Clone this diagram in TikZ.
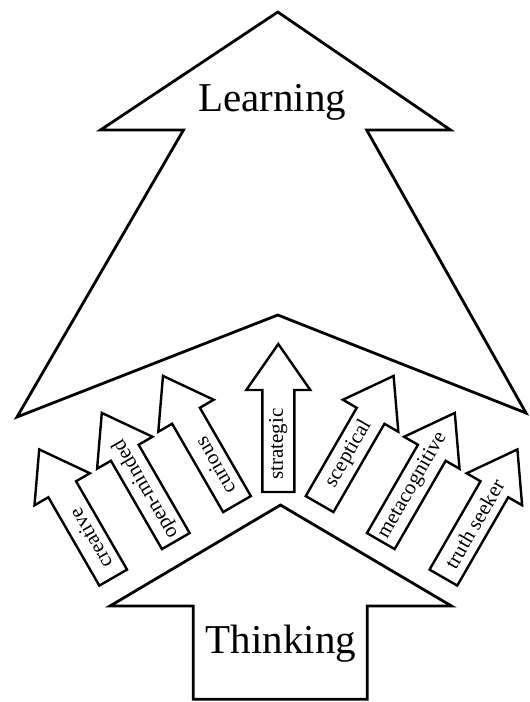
\documentclass[tikz,border=0pt]{standalone}
\usepackage{fontspec}
\setmainfont{Liberation Serif}
% one block arrow of the fan: name, centre, direction, label, label shift towards the base
\newcommand\traitarrow[5]{%
  \begin{scope}[shift={#2}, rotate=#3]
    \draw[smallarrow] (74,0) -- (28,32) -- (28,16) -- (-74,16) -- (-74,-16)
      -- (28,-16) -- (28,-32) -- cycle;
    \node[trait, rotate=#3] (#1) at (-#5,0) {#4};
  \end{scope}}
\begin{document}
\begin{tikzpicture}[x=1pt, y=-1pt,
  bigarrow/.style={draw=black, fill=white, line width=2.8pt, line join=miter},
  smallarrow/.style={draw=black, fill=white, line width=2.4pt, line join=miter},
  bigtext/.style={font=\fontsize{41}{49}\selectfont, inner sep=0pt},
  trait/.style={font=\fontsize{21}{25}\selectfont, inner sep=0pt}]
\useasboundingbox (0,0) rectangle (530,702);

% large arrow: Learning
\draw[bigarrow] (277.8,12) -- (450.5,130) -- (366.7,130) -- (526,413)
  -- (277.8,315) -- (17,417) -- (183.5,130) -- (100.5,130) -- cycle;
\node[bigtext, anchor=base] (learning) at (272,111.5) {Learning};

% large arrow: Thinking
\draw[bigarrow] (280.5,505) -- (451.5,606) -- (367.3,606) -- (367.3,699.3)
  -- (193.3,699.3) -- (193.3,606) -- (110,606) -- cycle;
\node[bigtext, anchor=base] (thinking) at (281,653) {Thinking};

% fan of smaller arrows
\traitarrow{creative}{(76.2,513.5)}{120}{creative}{29}
\traitarrow{openminded}{(138.8,477)}{120}{open-minded}{14}
\traitarrow{curious}{(200,440)}{120}{curious}{30}
\traitarrow{truthseeker}{(480.4,513.5)}{60}{truth seeker}{12}
\traitarrow{metacognitive}{(417.8,477)}{60}{metacognitive}{10}
\traitarrow{sceptical}{(356.6,440)}{60}{sceptical}{16}
\traitarrow{strategic}{(278.3,418)}{90}{strategic}{26}
\end{tikzpicture}
\end{document}
